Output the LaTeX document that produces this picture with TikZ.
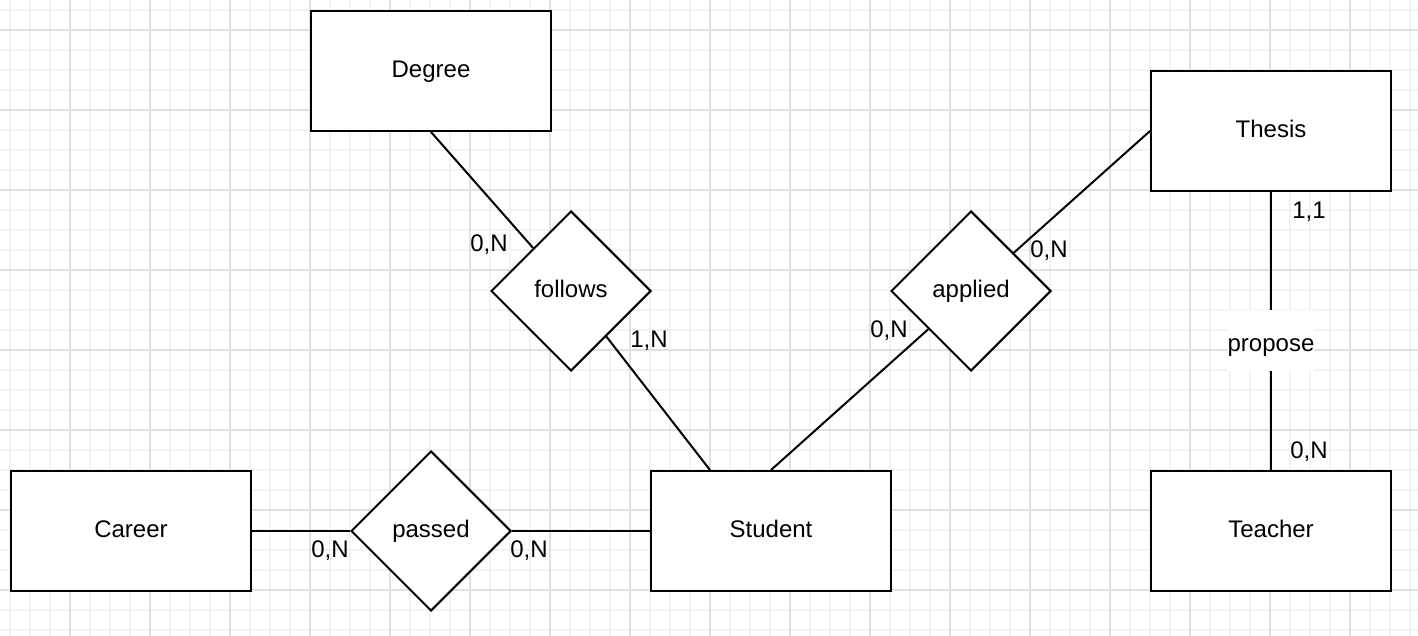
\documentclass[tikz,border=0pt]{standalone}
\usepackage{fontspec}
\setmainfont{Liberation Sans}
\usetikzlibrary{shapes.geometric}

\tikzset{
  label text/.style={text height=9pt, text depth=2.5pt},
  entity/.style={draw, line width=1pt, fill=white, minimum width=120pt, minimum height=60pt, inner sep=0pt, label text},
  relation/.style={draw, diamond, line width=1pt, fill=white, minimum width=80pt, minimum height=80pt, inner sep=0pt, label text},
  card/.style={inner sep=0pt},
  link/.style={line width=1pt},
  minorline/.style={line width=1pt, black!5},
  majorline/.style={line width=1pt, black!12},
}

\begin{document}
\begin{tikzpicture}[x=0.5pt, y=-0.5pt, font=\fontsize{12}{14}\selectfont]
  \useasboundingbox (0,0) rectangle (1418,636);
  % grid
  \foreach \x in {10,30,...,1410} \draw[minorline] (\x,0) -- (\x,636);
  \foreach \y in {10,30,...,630} \draw[minorline] (0,\y) -- (1418,\y);
  \foreach \x in {70,150,...,1390} \draw[majorline] (\x,0) -- (\x,636);
  \foreach \y in {30,110,...,590} \draw[majorline] (0,\y) -- (1418,\y);

  % entities
  \node (Degree) [entity] at (431,71) {Degree};
  \node (Thesis) [entity] at (1271,131) {Thesis};
  \node (Career) [entity] at (131,531) {Career};
  \node (Student) [entity] at (771,531) {Student};
  \node (Teacher) [entity] at (1271,531) {Teacher};

  % relations
  \node (follows) [relation] at (571,291) {follows};
  \node (applied) [relation] at (971,291) {applied};
  \node (passed) [relation] at (431,531) {passed};
  \node (propose) [fill=white, inner sep=0pt, text height=20.8pt, text depth=9.6pt] at (1271,340.5) {propose};

  \draw[link] (Degree.south) -- (follows);
  \draw[link] (follows) -- (Student.135);
  \draw[link] (Student.north) -- (applied);
  \draw[link] (applied) -- (Thesis.west);
  \draw[link] (Career.east) -- (passed.west);
  \draw[link] (passed.east) -- (Student.west);
  \draw[link] (Thesis) -- (propose) -- (Teacher);

  % cardinalities
  \node (cDegree) [card] at (489,245) {0,N};
  \node (cFollows) [card] at (649,341) {1,N};
  \node (cStudent) [card] at (889,331) {0,N};
  \node (cThesis) [card] at (1049,251) {0,N};
  \node (cPropose) [card] at (1309,212) {1,1};
  \node (cTeacher) [card] at (1309,452) {0,N};
  \node (cCareer) [card] at (330,551) {0,N};
  \node (cPassed) [card] at (529,551) {0,N};
\end{tikzpicture}
\end{document}
